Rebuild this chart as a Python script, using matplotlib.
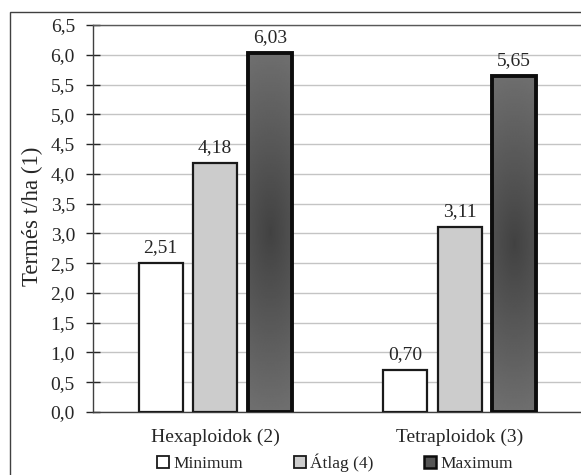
import numpy as np
import matplotlib
matplotlib.use("Agg")
import matplotlib.pyplot as plt
from matplotlib.patches import Rectangle, Patch

plt.rcParams['font.family'] = ['Liberation Serif', 'DejaVu Serif']

categories = ['Hexaploidok (2)', 'Tetraploidok (3)']
series_names = ['Minimum', 'Átlag (4)', 'Maximum']
minimum = [2.51, 0.70]
atlag = [4.18, 3.11]
maximum = [6.03, 5.65]
yticks = [0.0, 0.5, 1.0, 1.5, 2.0, 2.5, 3.0, 3.5, 4.0, 4.5, 5.0, 5.5, 6.0, 6.5]

TEXT = '#262626'
W, H = 581, 475
fig = plt.figure(figsize=(W / 100, H / 100), dpi=100)

# outer chart border
fig.add_artist(Rectangle((10 / W, -0.05), 1.2, 1 - 12 / H + 0.05,
                         transform=fig.transFigure, fill=False,
                         edgecolor='#404040', linewidth=1.0))

ax = fig.add_axes([93 / W, 1 - 412 / H, 489 / W, 387 / H])

x = np.arange(len(categories))
bw = 0.18
off = 0.223

b_min = ax.bar(x - off, minimum, bw, color='white', edgecolor='#1a1a1a',
               linewidth=1.6, zorder=3)
b_avg = ax.bar(x, atlag, bw, color='#cccccc', edgecolor='#1a1a1a',
               linewidth=1.6, zorder=3)
b_max = ax.bar(x + off, maximum, bw, color='#595959', edgecolor='#0d0d0d',
               linewidth=2.8, zorder=3)

# shading inside the maximum bars: dark centre fading to a lighter rim
ny, nx = 200, 60
u = np.linspace(-1, 1, nx)
v = np.linspace(-1, 1, ny)
U, V = np.meshgrid(u, v)
d = np.clip(np.sqrt((0.35 * U) ** 2 + V ** 2), 0, 1)
c0, c1 = 0x42 / 255, 0x6e / 255
shade = c0 + (c1 - c0) * d
for rect in b_max:
    x0 = rect.get_x()
    h = rect.get_height()
    im = ax.imshow(shade, cmap='gray', vmin=0, vmax=1,
                   extent=[x0, x0 + rect.get_width(), 0, h],
                   aspect='auto', zorder=3.5, interpolation='bilinear')
    im.set_clip_path(rect)
    rect.set_facecolor('none')
    rect.set_zorder(4)

ax.set_xlim(-0.5, 1.5)
ax.set_ylim(0, 6.5)
ax.set_yticks(yticks)
ax.set_yticklabels([f'{t:.1f}'.replace('.', ',') for t in yticks],
                   fontsize=14, color=TEXT)
ax.set_xticks(x)
ax.set_xticklabels(categories, fontsize=14, color=TEXT)
ax.tick_params(axis='x', length=0, pad=12)
ax.tick_params(axis='y', direction='inout', length=10, width=1.0,
               color='#262626', pad=8)

ax.grid(axis='y', color='#c4c4c4', linewidth=1.0, zorder=0)
ax.set_axisbelow(True)
ax.spines['right'].set_visible(False)
ax.spines['top'].set_color('#595959')
ax.spines['top'].set_linewidth(1.0)
ax.spines['left'].set_color('#404040')
ax.spines['bottom'].set_color('#404040')
ax.spines['left'].set_linewidth(1.0)
ax.spines['bottom'].set_linewidth(1.0)

for bars, vals in [(b_min, minimum), (b_avg, atlag), (b_max, maximum)]:
    for rect, val in zip(bars, vals):
        ax.annotate(f'{val:.2f}'.replace('.', ','),
                    (rect.get_x() + rect.get_width() / 2, val),
                    xytext=(0, 5), textcoords='offset points',
                    ha='center', va='bottom', fontsize=14, color=TEXT,
                    zorder=6)

fig.text(32 / W, 1 - 216 / H, 'Termés t/ha (1)', rotation=90,
         ha='center', va='center', fontsize=16.5, color=TEXT)

handles = [Patch(facecolor='white', edgecolor='#1a1a1a', linewidth=1.3),
           Patch(facecolor='#cccccc', edgecolor='#1a1a1a', linewidth=1.3),
           Patch(facecolor='#555555', edgecolor='#0d0d0d', linewidth=1.8)]
fig.legend(handles, series_names, ncol=3, loc='center',
           bbox_to_anchor=(335 / W, 1 - 463 / H), frameon=False,
           fontsize=12.5, handlelength=0.7, handleheight=0.7,
           handletextpad=0.25, columnspacing=2.9, labelcolor=TEXT)

fig.savefig('out.png', dpi=100)
